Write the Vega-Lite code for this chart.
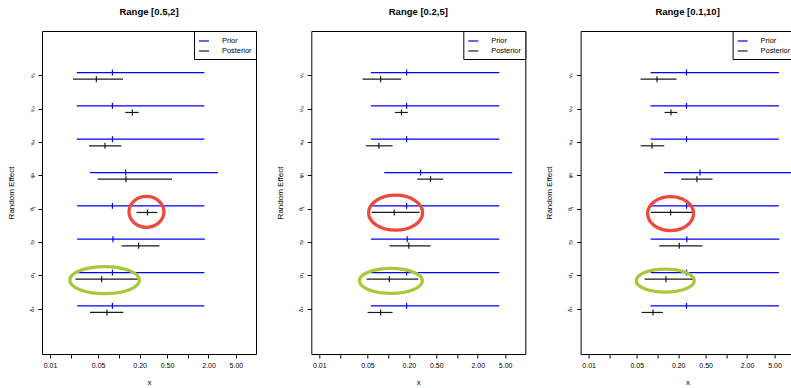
{
  "$schema": "https://vega.github.io/schema/vega-lite/v6.json",
  "autosize": {"type": "pad"},
  "padding": {"left": 6, "top": 6, "right": 0, "bottom": 0},
  "background": "white",
  "config": {
    "font": "Liberation Sans",
    "view": {"stroke": "black", "strokeWidth": 1},
    "axis": {"grid": false, "domain": false, "tickColor": "black", "tickWidth": 1, "labelColor": "black", "titleColor": "black", "titleFontWeight": "normal", "labelFont": "Liberation Sans", "titleFont": "Liberation Sans"},
    "title": {"fontSize": 9.5, "fontWeight": "bold", "offset": 14, "anchor": "middle", "color": "black", "font": "Liberation Sans"},
    "legend": {"orient": "top-right", "offset": 0, "symbolType": "stroke", "symbolSize": 100, "symbolStrokeWidth": 1.2, "labelFontSize": 7.4, "labelColor": "black", "padding": 4, "rowPadding": -2, "strokeColor": "black", "fillColor": "white", "labelOffset": 12, "cornerRadius": 0, "title": null}
  },
  "datasets": {
    "est": [
      {"panel": "Range [0.5,2]", "effect": "νₛ", "series": "Prior", "lo": 0.0245, "med": 0.0806, "hi": 1.74},
      {"panel": "Range [0.5,2]", "effect": "νₛ", "series": "Posterior", "lo": 0.0216, "med": 0.0471, "hi": 0.1147},
      {"panel": "Range [0.5,2]", "effect": "νₛₗ", "series": "Prior", "lo": 0.0245, "med": 0.0806, "hi": 1.74},
      {"panel": "Range [0.5,2]", "effect": "νₛₗ", "series": "Posterior", "lo": 0.124, "med": 0.157, "hi": 0.194},
      {"panel": "Range [0.5,2]", "effect": "νₛₜ", "series": "Prior", "lo": 0.0245, "med": 0.0806, "hi": 1.74},
      {"panel": "Range [0.5,2]", "effect": "νₛₜ", "series": "Posterior", "lo": 0.0368, "med": 0.0628, "hi": 0.1086},
      {"panel": "Range [0.5,2]", "effect": "φᵢ", "series": "Prior", "lo": 0.0381, "med": 0.1256, "hi": 2.74},
      {"panel": "Range [0.5,2]", "effect": "φᵢ", "series": "Posterior", "lo": 0.0492, "med": 0.127, "hi": 0.59},
      {"panel": "Range [0.5,2]", "effect": "θⱼ", "series": "Prior", "lo": 0.0248, "med": 0.0806, "hi": 1.74},
      {"panel": "Range [0.5,2]", "effect": "θⱼ", "series": "Posterior", "lo": 0.181, "med": 0.26, "hi": 0.362},
      {"panel": "Range [0.5,2]", "effect": "ηᵢ", "series": "Prior", "lo": 0.0248, "med": 0.082, "hi": 1.77},
      {"panel": "Range [0.5,2]", "effect": "ηᵢ", "series": "Posterior", "lo": 0.11, "med": 0.194, "hi": 0.388},
      {"panel": "Range [0.5,2]", "effect": "σⱼ", "series": "Prior", "lo": 0.0248, "med": 0.0806, "hi": 1.74},
      {"panel": "Range [0.5,2]", "effect": "σⱼ", "series": "Posterior", "lo": 0.0234, "med": 0.0562, "hi": 0.1875},
      {"panel": "Range [0.5,2]", "effect": "δₑ", "series": "Prior", "lo": 0.0248, "med": 0.0806, "hi": 1.74},
      {"panel": "Range [0.5,2]", "effect": "δₑ", "series": "Posterior", "lo": 0.0381, "med": 0.0671, "hi": 0.116},

      {"panel": "Range [0.2,5]", "effect": "νₛ", "series": "Prior", "lo": 0.0561, "med": 0.185, "hi": 4.1},
      {"panel": "Range [0.2,5]", "effect": "νₛ", "series": "Posterior", "lo": 0.0425, "med": 0.0776, "hi": 0.155},
      {"panel": "Range [0.2,5]", "effect": "νₛₗ", "series": "Prior", "lo": 0.0561, "med": 0.185, "hi": 4.1},
      {"panel": "Range [0.2,5]", "effect": "νₛₗ", "series": "Posterior", "lo": 0.125, "med": 0.156, "hi": 0.193},
      {"panel": "Range [0.2,5]", "effect": "νₛₜ", "series": "Prior", "lo": 0.0561, "med": 0.185, "hi": 4.1},
      {"panel": "Range [0.2,5]", "effect": "νₛₜ", "series": "Posterior", "lo": 0.0475, "med": 0.0733, "hi": 0.1158},
      {"panel": "Range [0.2,5]", "effect": "φᵢ", "series": "Prior", "lo": 0.0878, "med": 0.295, "hi": 6.33},
      {"panel": "Range [0.2,5]", "effect": "φᵢ", "series": "Posterior", "lo": 0.264, "med": 0.412, "hi": 0.63},
      {"panel": "Range [0.2,5]", "effect": "θⱼ", "series": "Prior", "lo": 0.0561, "med": 0.185, "hi": 4.1},
      {"panel": "Range [0.2,5]", "effect": "θⱼ", "series": "Posterior", "lo": 0.0574, "med": 0.1226, "hi": 0.286},
      {"panel": "Range [0.2,5]", "effect": "ηᵢ", "series": "Prior", "lo": 0.0561, "med": 0.189, "hi": 4.1},
      {"panel": "Range [0.2,5]", "effect": "ηᵢ", "series": "Posterior", "lo": 0.1048, "med": 0.1997, "hi": 0.412},
      {"panel": "Range [0.2,5]", "effect": "σⱼ", "series": "Prior", "lo": 0.0561, "med": 0.185, "hi": 4.1},
      {"panel": "Range [0.2,5]", "effect": "σⱼ", "series": "Posterior", "lo": 0.0486, "med": 0.1038, "hi": 0.2735},
      {"panel": "Range [0.2,5]", "effect": "δₑ", "series": "Prior", "lo": 0.0561, "med": 0.185, "hi": 4.1},
      {"panel": "Range [0.2,5]", "effect": "δₑ", "series": "Posterior", "lo": 0.0502, "med": 0.0776, "hi": 0.1158},

      {"panel": "Range [0.1,10]", "effect": "νₛ", "series": "Prior", "lo": 0.0794, "med": 0.264, "hi": 5.8},
      {"panel": "Range [0.1,10]", "effect": "νₛ", "series": "Posterior", "lo": 0.0569, "med": 0.0984, "hi": 0.189},
      {"panel": "Range [0.1,10]", "effect": "νₛₗ", "series": "Prior", "lo": 0.0794, "med": 0.264, "hi": 5.8},
      {"panel": "Range [0.1,10]", "effect": "νₛₗ", "series": "Posterior", "lo": 0.127, "med": 0.157, "hi": 0.194},
      {"panel": "Range [0.1,10]", "effect": "νₛₜ", "series": "Prior", "lo": 0.0794, "med": 0.264, "hi": 5.8},
      {"panel": "Range [0.1,10]", "effect": "νₛₜ", "series": "Posterior", "lo": 0.0569, "med": 0.0832, "hi": 0.1256},
      {"panel": "Range [0.1,10]", "effect": "φᵢ", "series": "Prior", "lo": 0.124, "med": 0.414, "hi": 9.04},
      {"panel": "Range [0.1,10]", "effect": "φᵢ", "series": "Posterior", "lo": 0.2215, "med": 0.374, "hi": 0.63},
      {"panel": "Range [0.1,10]", "effect": "θⱼ", "series": "Prior", "lo": 0.0794, "med": 0.264, "hi": 5.8},
      {"panel": "Range [0.1,10]", "effect": "θⱼ", "series": "Posterior", "lo": 0.0804, "med": 0.155, "hi": 0.327},
      {"panel": "Range [0.1,10]", "effect": "ηᵢ", "series": "Prior", "lo": 0.0794, "med": 0.267, "hi": 5.9},
      {"panel": "Range [0.1,10]", "effect": "ηᵢ", "series": "Posterior", "lo": 0.1062, "med": 0.207, "hi": 0.447},
      {"panel": "Range [0.1,10]", "effect": "σⱼ", "series": "Prior", "lo": 0.0794, "med": 0.264, "hi": 5.8},
      {"panel": "Range [0.1,10]", "effect": "σⱼ", "series": "Posterior", "lo": 0.065, "med": 0.1328, "hi": 0.334},
      {"panel": "Range [0.1,10]", "effect": "δₑ", "series": "Prior", "lo": 0.0794, "med": 0.264, "hi": 5.8},
      {"panel": "Range [0.1,10]", "effect": "δₑ", "series": "Posterior", "lo": 0.0588, "med": 0.086, "hi": 0.12}
    ]
  },
  "spacing": 55.3,
  "bounds": "flush",
  "resolve": {"scale": {"color": "independent"}, "legend": {"color": "independent"}},
  "hconcat": [
    {
      "title": "Range [0.5,2]",
      "width": 214, "height": 323,
      "data": {"name": "est"},
      "transform": [{"filter": "datum.panel === 'Range [0.5,2]'"}],
      "encoding": {
        "y": {"field": "effect", "type": "nominal", "title": "Random Effect",
          "scale": {"domain": ["νₛ","νₛₗ","νₛₜ","φᵢ","θⱼ","ηᵢ","σⱼ","δₑ"], "paddingInner": 0, "paddingOuter": 0.845},
          "axis": {"labelAngle": -90, "labelAlign": "center", "labelBaseline": "bottom", "labelFontSize": 6, "labelPadding": 4, "tickSize": 4, "titleFontSize": 8, "titlePadding": 13}},
        "x": {"field": "med", "type": "quantitative", "title": "x",
          "scale": {"type": "log", "domain": [0.00765, 9.8], "nice": false, "zero": false},
          "axis": {"values": [0.01,0.02,0.05,0.1,0.2,0.5,1,2,5], "labelExpr": "indexof([0.02,0.1,1], datum.value) >= 0 ? '' : format(datum.value, '.2f')", "tickSize": 4, "labelFontSize": 7, "labelPadding": 3, "labelFlush": false, "labelOverlap": false, "titleFontSize": 8, "titlePadding": 10}},
        "color": {"field": "series", "type": "nominal", "scale": {"domain": ["Prior","Posterior"], "range": ["#0000ff","#1a1a1a"]}}
      },
      "layer": [
        {"transform": [{"filter": "datum.series === 'Prior'"}], "mark": {"type": "rule", "strokeWidth": 1.2, "yOffset": -3.3}, "encoding": {"x": {"field": "lo"}, "x2": {"field": "hi"}}},
        {"transform": [{"filter": "datum.series === 'Prior'"}], "mark": {"type": "tick", "orient": "vertical", "size": 6, "thickness": 1.2, "yOffset": -3.3, "opacity": 1}},
        {"transform": [{"filter": "datum.series === 'Posterior'"}], "mark": {"type": "rule", "strokeWidth": 1.2, "yOffset": 3.3}, "encoding": {"x": {"field": "lo"}, "x2": {"field": "hi"}}},
        {"transform": [{"filter": "datum.series === 'Posterior'"}], "mark": {"type": "tick", "orient": "vertical", "size": 6, "thickness": 1.2, "yOffset": 3.3, "opacity": 1}},
        {"transform": [{"filter": "datum.series === 'Posterior' && datum.effect === 'θⱼ'"}], "mark": {"type": "point", "shape": "M -1 0 A 1 0.886 0 1 1 1 0 A 1 0.886 0 1 1 -1 0 Z", "size": 1225, "filled": false, "stroke": "#EE4A3B", "strokeWidth": 3.3, "opacity": 1, "yOffset": 2.7, "xOffset": -1}, "encoding": {"color": {"value": "#EE4A3B"}}},
        {"transform": [{"filter": "datum.series === 'Posterior' && datum.effect === 'σⱼ'"}], "mark": {"type": "point", "shape": "M -1 0 A 1 0.388 0 1 1 1 0 A 1 0.388 0 1 1 -1 0 Z", "size": 4844, "filled": false, "stroke": "#A8C83C", "strokeWidth": 3.3, "opacity": 1, "yOffset": 4.3, "xOffset": 3}, "encoding": {"color": {"value": "#A8C83C"}}}
      ]
    },
    {
      "title": "Range [0.2,5]",
      "width": 214, "height": 323,
      "data": {"name": "est"},
      "transform": [{"filter": "datum.panel === 'Range [0.2,5]'"}],
      "encoding": {
        "y": {"field": "effect", "type": "nominal", "title": "Random Effect",
          "scale": {"domain": ["νₛ","νₛₗ","νₛₜ","φᵢ","θⱼ","ηᵢ","σⱼ","δₑ"], "paddingInner": 0, "paddingOuter": 0.845},
          "axis": {"labelAngle": -90, "labelAlign": "center", "labelBaseline": "bottom", "labelFontSize": 6, "labelPadding": 4, "tickSize": 4, "titleFontSize": 8, "titlePadding": 13}},
        "x": {"field": "med", "type": "quantitative", "title": "x",
          "scale": {"type": "log", "domain": [0.00765, 9.8], "nice": false, "zero": false},
          "axis": {"values": [0.01,0.02,0.05,0.1,0.2,0.5,1,2,5], "labelExpr": "indexof([0.02,0.1,1], datum.value) >= 0 ? '' : format(datum.value, '.2f')", "tickSize": 4, "labelFontSize": 7, "labelPadding": 3, "labelFlush": false, "labelOverlap": false, "titleFontSize": 8, "titlePadding": 10}},
        "color": {"field": "series", "type": "nominal", "scale": {"domain": ["Prior","Posterior"], "range": ["#0000ff","#1a1a1a"]}}
      },
      "layer": [
        {"transform": [{"filter": "datum.series === 'Prior'"}], "mark": {"type": "rule", "strokeWidth": 1.2, "yOffset": -3.3}, "encoding": {"x": {"field": "lo"}, "x2": {"field": "hi"}}},
        {"transform": [{"filter": "datum.series === 'Prior'"}], "mark": {"type": "tick", "orient": "vertical", "size": 6, "thickness": 1.2, "yOffset": -3.3, "opacity": 1}},
        {"transform": [{"filter": "datum.series === 'Posterior'"}], "mark": {"type": "rule", "strokeWidth": 1.2, "yOffset": 3.3}, "encoding": {"x": {"field": "lo"}, "x2": {"field": "hi"}}},
        {"transform": [{"filter": "datum.series === 'Posterior'"}], "mark": {"type": "tick", "orient": "vertical", "size": 6, "thickness": 1.2, "yOffset": 3.3, "opacity": 1}},
        {"transform": [{"filter": "datum.series === 'Posterior' && datum.effect === 'θⱼ'"}], "mark": {"type": "point", "shape": "M -1 0 A 1 0.648 0 1 1 1 0 A 1 0.648 0 1 1 -1 0 Z", "size": 2916, "filled": false, "stroke": "#EE4A3B", "strokeWidth": 3.3, "opacity": 1, "yOffset": 3.5, "xOffset": 1.3}, "encoding": {"color": {"value": "#EE4A3B"}}},
        {"transform": [{"filter": "datum.series === 'Posterior' && datum.effect === 'σⱼ'"}], "mark": {"type": "point", "shape": "M -1 0 A 1 0.397 0 1 1 1 0 A 1 0.397 0 1 1 -1 0 Z", "size": 3969, "filled": false, "stroke": "#A8C83C", "strokeWidth": 3.3, "opacity": 1, "yOffset": 5, "xOffset": 1.6}, "encoding": {"color": {"value": "#A8C83C"}}}
      ]
    },
    {
      "title": "Range [0.1,10]",
      "width": 214, "height": 323,
      "data": {"name": "est"},
      "transform": [{"filter": "datum.panel === 'Range [0.1,10]'"}],
      "encoding": {
        "y": {"field": "effect", "type": "nominal", "title": "Random Effect",
          "scale": {"domain": ["νₛ","νₛₗ","νₛₜ","φᵢ","θⱼ","ηᵢ","σⱼ","δₑ"], "paddingInner": 0, "paddingOuter": 0.845},
          "axis": {"labelAngle": -90, "labelAlign": "center", "labelBaseline": "bottom", "labelFontSize": 6, "labelPadding": 4, "tickSize": 4, "titleFontSize": 8, "titlePadding": 13}},
        "x": {"field": "med", "type": "quantitative", "title": "x",
          "scale": {"type": "log", "domain": [0.00765, 9.8], "nice": false, "zero": false},
          "axis": {"values": [0.01,0.02,0.05,0.1,0.2,0.5,1,2,5], "labelExpr": "indexof([0.02,0.1,1], datum.value) >= 0 ? '' : format(datum.value, '.2f')", "tickSize": 4, "labelFontSize": 7, "labelPadding": 3, "labelFlush": false, "labelOverlap": false, "titleFontSize": 8, "titlePadding": 10}},
        "color": {"field": "series", "type": "nominal", "scale": {"domain": ["Prior","Posterior"], "range": ["#0000ff","#1a1a1a"]}}
      },
      "layer": [
        {"transform": [{"filter": "datum.series === 'Prior'"}], "mark": {"type": "rule", "strokeWidth": 1.2, "yOffset": -3.3}, "encoding": {"x": {"field": "lo"}, "x2": {"field": "hi"}}},
        {"transform": [{"filter": "datum.series === 'Prior'"}], "mark": {"type": "tick", "orient": "vertical", "size": 6, "thickness": 1.2, "yOffset": -3.3, "opacity": 1}},
        {"transform": [{"filter": "datum.series === 'Posterior'"}], "mark": {"type": "rule", "strokeWidth": 1.2, "yOffset": 3.3}, "encoding": {"x": {"field": "lo"}, "x2": {"field": "hi"}}},
        {"transform": [{"filter": "datum.series === 'Posterior'"}], "mark": {"type": "tick", "orient": "vertical", "size": 6, "thickness": 1.2, "yOffset": 3.3, "opacity": 1}},
        {"transform": [{"filter": "datum.series === 'Posterior' && datum.effect === 'θⱼ'"}], "mark": {"type": "point", "shape": "M -1 0 A 1 0.739 0 1 1 1 0 A 1 0.739 0 1 1 -1 0 Z", "size": 2116, "filled": false, "stroke": "#EE4A3B", "strokeWidth": 3.3, "opacity": 1, "yOffset": 4.4, "xOffset": 0}, "encoding": {"color": {"value": "#EE4A3B"}}},
        {"transform": [{"filter": "datum.series === 'Posterior' && datum.effect === 'σⱼ'"}], "mark": {"type": "point", "shape": "M -1 0 A 1 0.397 0 1 1 1 0 A 1 0.397 0 1 1 -1 0 Z", "size": 3364, "filled": false, "stroke": "#A8C83C", "strokeWidth": 3.3, "opacity": 1, "yOffset": 4.8, "xOffset": -0.7}, "encoding": {"color": {"value": "#A8C83C"}}}
      ]
    }
  ]
}
